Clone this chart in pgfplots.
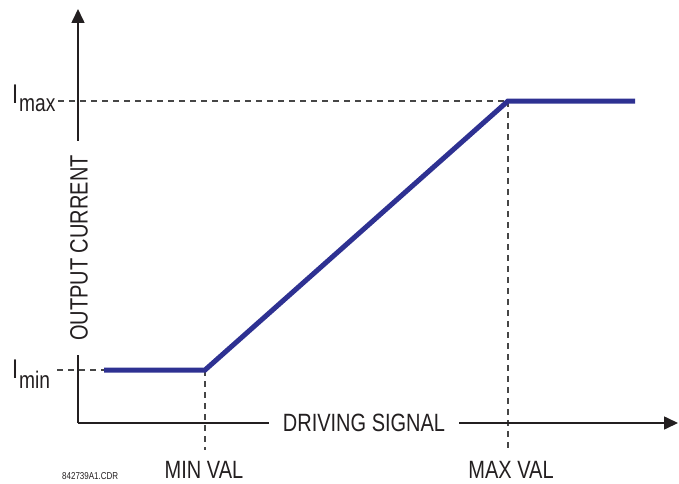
\documentclass[border=0pt]{standalone}
\usepackage{pgfplots}
\pgfplotsset{compat=1.18}
\usepackage{fontspec}
\setmainfont{Liberation Sans}[FakeStretch=0.8]
\usetikzlibrary{arrows.meta}
\definecolor{navy}{RGB}{46,49,146}
\definecolor{ink}{RGB}{35,31,32}
\definecolor{dashgray}{RGB}{70,70,70}
\begin{document}
\begin{tikzpicture}
\begin{axis}[x=1pt,y=1pt,xmin=0,xmax=679,ymin=0,ymax=483,hide axis,clip=false,scale only axis]
\path (axis cs:0,0) rectangle (axis cs:679,483);
% dashed guides
\draw[dashgray,line width=1.3pt,dash pattern=on 6pt off 5pt] (axis cs:58,382) -- (axis cs:508,382);
\draw[dashgray,line width=1.3pt,dash pattern=on 6pt off 5pt] (axis cs:57,113) -- (axis cs:104,113);
\draw[dashgray,line width=1.3pt,dash pattern=on 6pt off 5pt] (axis cs:205,113) -- (axis cs:205,33);
\draw[dashgray,line width=1.3pt,dash pattern=on 6pt off 5pt] (axis cs:508,382) -- (axis cs:508,33);
% axes
\draw[ink,line width=1.6pt,-{Triangle[width=13pt,length=14pt]}] (axis cs:78,60) -- (axis cs:78,474);
\draw[ink,line width=1.6pt,-{Triangle[width=13pt,length=14pt]}] (axis cs:78,60) -- (axis cs:678,60);
% curve
\addplot[navy,line width=5pt,line join=miter] coordinates {(104,113) (205,113) (508,382) (635,382)};
% labels
\node[fill=white,text=ink,rotate=90,inner xsep=14pt,inner ysep=2pt,font=\fontsize{25}{30}\selectfont] at (axis cs:79,235) {OUTPUT CURRENT};
\node[fill=white,text=ink,inner xsep=14pt,inner ysep=2pt,font=\fontsize{25}{30}\selectfont] at (axis cs:364,60) {DRIVING SIGNAL};
\node[text=ink,anchor=base,inner sep=0pt,font=\fontsize{25}{30}\selectfont] at (axis cs:204,5) {MIN VAL};
\node[text=ink,anchor=base,inner sep=0pt,font=\fontsize{25}{30}\selectfont] at (axis cs:511,5) {MAX VAL};
\node[text=ink,anchor=base west,inner sep=0pt,font=\fontsize{10}{12}\selectfont] at (axis cs:62,4) {842739A1.CDR};
\node[text=ink,anchor=base west,inner sep=0pt,font=\fontsize{27}{30}\selectfont] at (axis cs:12,380) {I};
\node[text=ink,anchor=base west,inner sep=0pt,font=\fontsize{24}{30}\selectfont] at (axis cs:19,371) {max};
\node[text=ink,anchor=base west,inner sep=0pt,font=\fontsize{27}{30}\selectfont] at (axis cs:12,105) {I};
\node[text=ink,anchor=base west,inner sep=0pt,font=\fontsize{24}{30}\selectfont] at (axis cs:19,95) {min};
\end{axis}
\pgfresetboundingbox
\useasboundingbox (current axis.south west) rectangle (current axis.north east);
\end{tikzpicture}
\end{document}
